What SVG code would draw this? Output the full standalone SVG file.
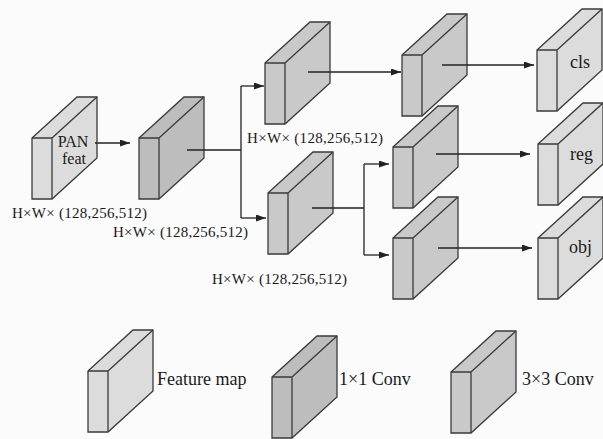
<svg xmlns="http://www.w3.org/2000/svg" xmlns:xlink="http://www.w3.org/1999/xlink" width="603" height="439" viewBox="0 0 603 439">
  <style>
    .cube { stroke: #3a3a3a; stroke-width: 1.3; stroke-linejoin: miter; }
    .fm { fill: #dcdcdc; }
    .c1 { fill: #bdbdbd; }
    .c3 { fill: #c9c9c9; }
    .lbl { font-family: "Liberation Serif", serif; font-size: 15px; fill: #1a1a1a; }
    .big { font-family: "Liberation Serif", serif; font-size: 18px; fill: #1a1a1a; }
    .pan { font-family: "Liberation Serif", serif; font-size: 16px; fill: #1a1a1a; }
    .wire { stroke: #222; stroke-width: 1.3; fill: none; }
    .arr { marker-end: url(#head); }
  </style>
  <defs>
    <!-- block: narrow front face, top face and deep side face -->
    <g id="cube">
      <path d="M0,0 L45,-41 L65,-41 L65,20 L20,61 L0,61 Z"/>
      <path d="M0,0 H20 V61 M20,0 L65,-41" fill="none"/>
    </g>
    <marker id="head" markerUnits="userSpaceOnUse" markerWidth="11" markerHeight="8" refX="10" refY="3.5" orient="auto">
      <path d="M0,0 L10,3.5 L0,7 Z" fill="#222"/>
    </marker>
  </defs>

  <rect width="603" height="439" fill="#fbfbfb"/>

  <!-- network blocks -->
  <g id="pan-feat">
    <use xlink:href="#cube" x="32" y="138" class="cube fm"/>
    <text class="pan" x="73" y="147" text-anchor="middle">PAN</text>
    <text class="pan" x="74" y="164" text-anchor="middle">feat</text>
  </g>
  <g id="stem-conv">
    <use xlink:href="#cube" x="139" y="138" class="cube c1"/>
  </g>
  <g id="cls-conv-a">
    <use xlink:href="#cube" x="265" y="63" class="cube c3"/>
  </g>
  <g id="cls-conv-b">
    <use xlink:href="#cube" x="402" y="55" class="cube c3"/>
  </g>
  <g id="cls-out">
    <use xlink:href="#cube" x="537" y="50" class="cube fm"/>
    <text class="big" x="570" y="68">cls</text>
  </g>
  <g id="reg-conv-a">
    <use xlink:href="#cube" x="268" y="193" class="cube c3"/>
  </g>
  <g id="reg-conv-b">
    <use xlink:href="#cube" x="393" y="147" class="cube c3"/>
  </g>
  <g id="obj-conv">
    <use xlink:href="#cube" x="393" y="238" class="cube c3"/>
  </g>
  <g id="reg-out">
    <use xlink:href="#cube" x="538" y="144" class="cube fm"/>
    <text class="big" x="570" y="160">reg</text>
  </g>
  <g id="obj-out">
    <use xlink:href="#cube" x="538" y="238" class="cube fm"/>
    <text class="big" x="569" y="253">obj</text>
  </g>

  <!-- shape labels -->
  <g id="shape-labels">
    <text class="lbl" x="12" y="218" textLength="135" lengthAdjust="spacing">H×W× (128,256,512)</text>
    <text class="lbl" x="113" y="237" textLength="135" lengthAdjust="spacing">H×W× (128,256,512)</text>
    <text class="lbl" x="247" y="143" textLength="136" lengthAdjust="spacing">H×W× (128,256,512)</text>
    <text class="lbl" x="212" y="284" textLength="135" lengthAdjust="spacing">H×W× (128,256,512)</text>
  </g>

  <!-- connectors -->
  <g id="connectors">
    <line class="wire arr" x1="95" y1="143" x2="130" y2="143"/>
    <path class="wire" d="M187,150 H241 M241,86 V218"/>
    <line class="wire arr" x1="241" y1="86" x2="264" y2="86"/>
    <line class="wire arr" x1="241" y1="218" x2="266" y2="218"/>
    <line class="wire arr" x1="308" y1="72" x2="401" y2="72"/>
    <line class="wire arr" x1="442" y1="65" x2="534" y2="65"/>
    <path class="wire" d="M312,208 H364 M364,164 V255"/>
    <line class="wire arr" x1="364" y1="164" x2="389" y2="164"/>
    <line class="wire arr" x1="364" y1="255" x2="389" y2="255"/>
    <line class="wire arr" x1="436" y1="154" x2="530" y2="154"/>
    <line class="wire arr" x1="438" y1="248" x2="532" y2="248"/>
  </g>

  <!-- legend -->
  <g id="legend-feature-map">
    <use xlink:href="#cube" x="88" y="371" class="cube fm"/>
    <text class="big" x="157" y="385">Feature map</text>
  </g>
  <g id="legend-1x1">
    <use xlink:href="#cube" x="272" y="377" class="cube c1"/>
    <text class="big" x="339" y="385">1×1 Conv</text>
  </g>
  <g id="legend-3x3">
    <use xlink:href="#cube" x="451" y="372" class="cube c3"/>
    <text class="big" x="522" y="385">3×3 Conv</text>
  </g>
</svg>
